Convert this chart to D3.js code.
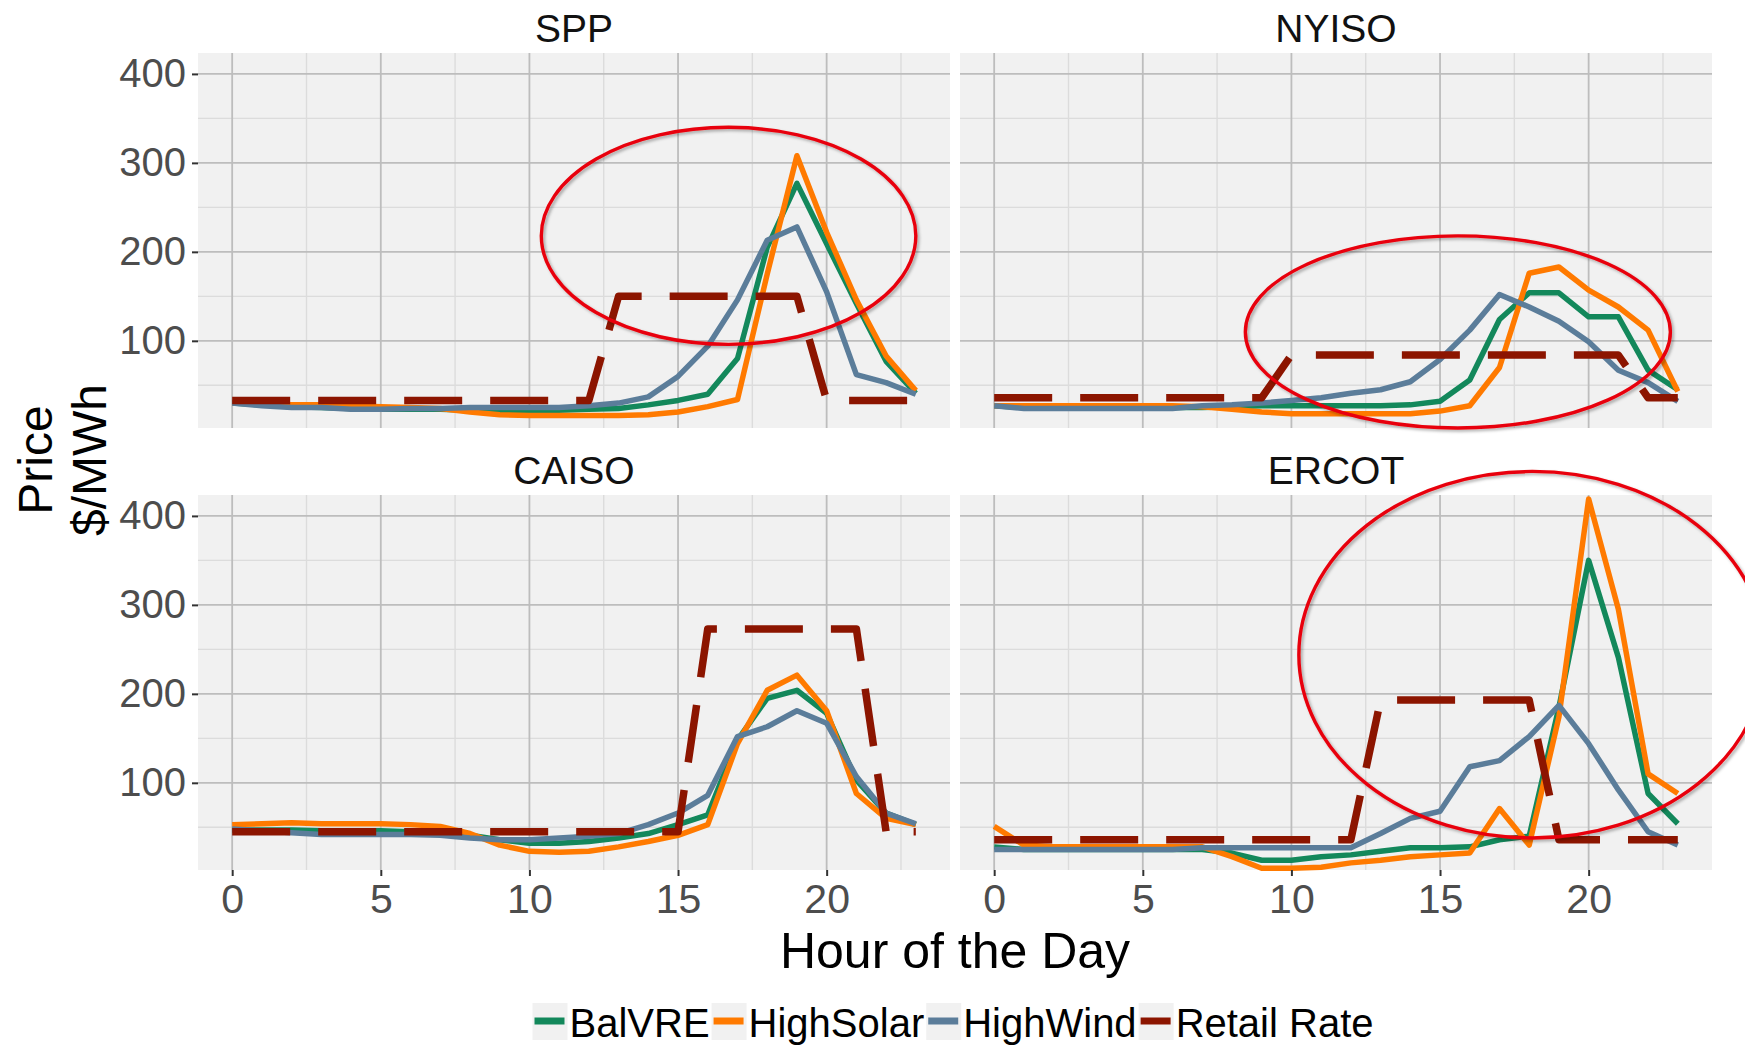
<!DOCTYPE html>
<html>
<head>
<meta charset="utf-8">
<script src="https://cdn.jsdelivr.net/npm/d3@7"></script>
<style>
  body { margin: 0; background: #fff; }
  svg { display: block; font-family: "Liberation Sans", Arial, sans-serif; }
</style>
</head>
<body>
<svg id="chart" width="1745" height="1045"></svg>
<script>
// hour of the day (x) and the four scenarios
var hours = [0, 1, 2, 3, 4, 5, 6, 7, 8, 9, 10, 11, 12, 13, 14, 15, 16, 17, 18, 19, 20, 21, 22, 23];
var regions = ["SPP", "NYISO", "CAISO", "ERCOT"];
var scenarios = ["BalVRE", "HighSolar", "HighWind", "Retail Rate"];
var colors = ["#13885b", "#ff7a00", "#5b7d9a", "#8c1500"];

var xBreaks = [0, 5, 10, 15, 20];
var yBreaks = [100, 200, 300, 400];

// prices $/MWh
var sppBalVRE    = [30, 28, 26, 25, 24, 23, 23, 23, 22, 22, 22, 22, 23, 24, 28, 33, 40, 80, 205, 277, 209, 142, 77, 41];
var sppHighSolar = [30, 29, 28, 28, 27, 26, 25, 24, 20, 17, 16, 16, 16, 16, 17, 20, 26, 34, 175, 308, 222, 146, 83, 44];
var sppHighWind  = [30, 27, 25, 25, 23, 23, 24, 24, 25, 25, 25, 25, 27, 30, 37, 60, 94, 146, 213, 228, 155, 62, 53, 40];
var sppRetail    = [33, 33, 33, 33, 33, 33, 33, 33, 33, 33, 33, 33, 33, 150, 150, 150, 150, 150, 150, 150, 33, 33, 33, 33];

var nyisoBalVRE    = [27, 25, 25, 25, 25, 25, 25, 25, 26, 27, 27, 27, 27, 27, 28, 32, 56, 124, 154, 154, 127, 127, 67, 45];
var nyisoHighSolar = [27, 27, 27, 27, 27, 27, 27, 26, 23, 20, 18, 18, 18, 18, 18, 21, 27, 70, 176, 183, 157, 138, 112, 43];
var nyisoHighWind  = [27, 24, 24, 24, 24, 24, 24, 27, 28, 30, 33, 36, 41, 45, 54, 79, 112, 152, 138, 122, 99, 67, 53, 32];
var nyisoRetail    = [36, 36, 36, 36, 36, 36, 36, 36, 36, 36, 84, 84, 84, 84, 84, 84, 84, 84, 84, 84, 84, 84, 36, 36];

var caisoBalVRE    = [47, 47, 47, 46, 46, 46, 45, 44, 41, 36, 32, 32, 34, 38, 43, 53, 64, 148, 195, 204, 178, 103, 66, 53];
var caisoHighSolar = [53, 54, 55, 54, 54, 54, 53, 51, 43, 30, 23, 22, 23, 28, 34, 41, 53, 144, 204, 221, 181, 88, 60, 53];
var caisoHighWind  = [48, 46, 44, 42, 42, 42, 42, 41, 38, 36, 36, 38, 40, 43, 53, 66, 86, 152, 163, 181, 167, 107, 66, 54];
var caisoRetail    = [45, 45, 45, 45, 45, 45, 45, 45, 45, 45, 45, 45, 45, 45, 45, 45, 273, 273, 273, 273, 273, 273, 45, 45];

var ercotBalVRE    = [28, 25, 25, 25, 25, 25, 25, 25, 21, 13, 13, 17, 19, 23, 27, 27, 28, 36, 40, 185, 350, 241, 88, 54];
var ercotHighSolar = [51, 30, 28, 28, 28, 28, 28, 28, 17, 4, 4, 5, 10, 13, 17, 19, 21, 71, 30, 174, 419, 295, 110, 88];
var ercotHighWind  = [25, 25, 25, 25, 25, 25, 25, 27, 27, 27, 27, 27, 27, 43, 60, 68, 118, 125, 152, 187, 144, 92, 45, 30];
var ercotRetail    = [36, 36, 36, 36, 36, 36, 36, 36, 36, 36, 36, 36, 36, 193, 193, 193, 193, 193, 193, 36, 36, 36, 36, 36];

// red circles drawn on the chart, in hour / price units
var highlightRegion = ["SPP", "NYISO", "ERCOT"];
var highlightHour   = [16.7, 15.6, 18.1];
var highlightPrice  = [218, 110, 244];
var highlightHours  = [6.3, 7.15, 7.85];
var highlightSpread = [122, 108, 206];

var series = {
  SPP:   [sppBalVRE, sppHighSolar, sppHighWind, sppRetail],
  NYISO: [nyisoBalVRE, nyisoHighSolar, nyisoHighWind, nyisoRetail],
  CAISO: [caisoBalVRE, caisoHighSolar, caisoHighWind, caisoRetail],
  ERCOT: [ercotBalVRE, ercotHighSolar, ercotHighWind, ercotRetail]
};

var svg = d3.select("#chart");

var panelW = 752, panelH = 375;
var panelX = [198, 960], panelY = [53, 495];

var x = d3.scaleLinear().domain([-1.15, 24.15]).range([0, panelW]);
var y = d3.scaleLinear().domain([2, 423.5]).range([panelH, 0]);

var minorX = xBreaks.map(d => d + 2.5).filter(d => d < x.domain()[1]);
var minorY = yBreaks.map(d => d - 50);

var line = d3.line()
  .x((d, i) => x(hours[i]))
  .y(d => y(d));

var defs = svg.append("defs");
var shadow = defs.append("filter").attr("id", "shadow")
  .attr("x", "-10%").attr("y", "-10%").attr("width", "120%").attr("height", "120%");
shadow.append("feDropShadow")
  .attr("dx", 2).attr("dy", 2).attr("stdDeviation", 1.5)
  .attr("flood-color", "#000").attr("flood-opacity", 0.3);

var panels = {};

regions.forEach(function(region, k) {
  var col = k % 2, row = Math.floor(k / 2);
  var g = svg.append("g")
    .attr("transform", "translate(" + panelX[col] + "," + panelY[row] + ")");
  panels[region] = g;

  g.append("rect")
    .attr("width", panelW).attr("height", panelH)
    .attr("fill", "#f1f1f1");

  // minor grid
  g.selectAll(".minx").data(minorX).enter().append("line")
    .attr("x1", d => x(d)).attr("x2", d => x(d))
    .attr("y1", 0).attr("y2", panelH)
    .attr("stroke", "#dcdcdc").attr("stroke-width", 1.4);
  g.selectAll(".miny").data(minorY).enter().append("line")
    .attr("y1", d => y(d)).attr("y2", d => y(d))
    .attr("x1", 0).attr("x2", panelW)
    .attr("stroke", "#dcdcdc").attr("stroke-width", 1.4);

  // major grid
  g.selectAll(".majx").data(xBreaks).enter().append("line")
    .attr("x1", d => x(d)).attr("x2", d => x(d))
    .attr("y1", 0).attr("y2", panelH)
    .attr("stroke", "#bdbdbd").attr("stroke-width", 1.8);
  g.selectAll(".majy").data(yBreaks).enter().append("line")
    .attr("y1", d => y(d)).attr("y2", d => y(d))
    .attr("x1", 0).attr("x2", panelW)
    .attr("stroke", "#bdbdbd").attr("stroke-width", 1.8);

  // strip title
  g.append("text")
    .attr("x", panelW / 2).attr("y", -11)
    .attr("text-anchor", "middle")
    .attr("font-size", 39).attr("fill", "#111")
    .text(region);

  // lines
  series[region].forEach(function(vals, s) {
    g.append("path")
      .attr("d", line(vals))
      .attr("fill", "none")
      .attr("stroke", colors[s])
      .attr("stroke-width", s === 3 ? 7.5 : 5.5)
      .attr("stroke-linejoin", "round")
      .attr("stroke-dasharray", s === 3 ? "58,28" : null);
  });

  // y axis on left column
  if (col === 0) {
    var ya = g.append("g").call(d3.axisLeft(y).tickValues(yBreaks).tickSize(6).tickPadding(6));
    ya.select(".domain").remove();
    ya.selectAll(".tick line").attr("stroke", "#333").attr("stroke-width", 2);
    ya.selectAll(".tick text")
      .attr("font-size", 40).attr("fill", "#4d4d4d")
      .attr("font-family", "Liberation Sans, Arial, sans-serif");
  }
  // x axis on bottom row
  if (row === 1) {
    var xa = g.append("g").attr("transform", "translate(0," + panelH + ")")
      .call(d3.axisBottom(x).tickValues(xBreaks).tickSize(6).tickPadding(8));
    xa.select(".domain").remove();
    xa.selectAll(".tick line").attr("stroke", "#333").attr("stroke-width", 2);
    xa.selectAll(".tick text")
      .attr("font-size", 41).attr("fill", "#4d4d4d")
      .attr("font-family", "Liberation Sans, Arial, sans-serif");
  }
});

// highlight circles
highlightRegion.forEach(function(region, i) {
  panels[region].append("ellipse")
    .attr("cx", x(highlightHour[i]))
    .attr("cy", y(highlightPrice[i]))
    .attr("rx", x(highlightHours[i]) - x(0))
    .attr("ry", y(0) - y(highlightSpread[i]))
    .attr("fill", "none")
    .attr("stroke", "#e8000a")
    .attr("stroke-width", 3.4)
    .attr("filter", "url(#shadow)");
});

// axis titles
svg.append("text")
  .attr("x", 955).attr("y", 968)
  .attr("text-anchor", "middle")
  .attr("font-size", 50).attr("fill", "#000")
  .text("Hour of the Day");

svg.append("text")
  .attr("transform", "translate(52,460) rotate(-90)")
  .attr("text-anchor", "middle")
  .attr("font-size", 48).attr("fill", "#000")
  .text("Price");
svg.append("text")
  .attr("transform", "translate(106,460) rotate(-90)")
  .attr("text-anchor", "middle")
  .attr("font-size", 48).attr("fill", "#000")
  .text("$/MWh");

// legend
var legend = svg.append("g");
var lx = 0;
scenarios.forEach(function(name, i) {
  var item = legend.append("g").attr("transform", "translate(" + lx + ",0)");
  item.append("rect")
    .attr("x", 0).attr("y", 1003).attr("width", 35).attr("height", 37)
    .attr("fill", "#f1f1f1");
  item.append("line")
    .attr("x1", 2).attr("x2", 32).attr("y1", 1021).attr("y2", 1021)
    .attr("stroke", colors[i]).attr("stroke-width", 7);
  var t = item.append("text")
    .attr("x", 37).attr("y", 1037)
    .attr("font-size", 40).attr("fill", "#000")
    .text(name);
  lx += 37 + t.node().getComputedTextLength() + 2;
});
legend.attr("transform", "translate(" + (953 - (lx - 2) / 2) + ",0)");
</script>
</body>
</html>
